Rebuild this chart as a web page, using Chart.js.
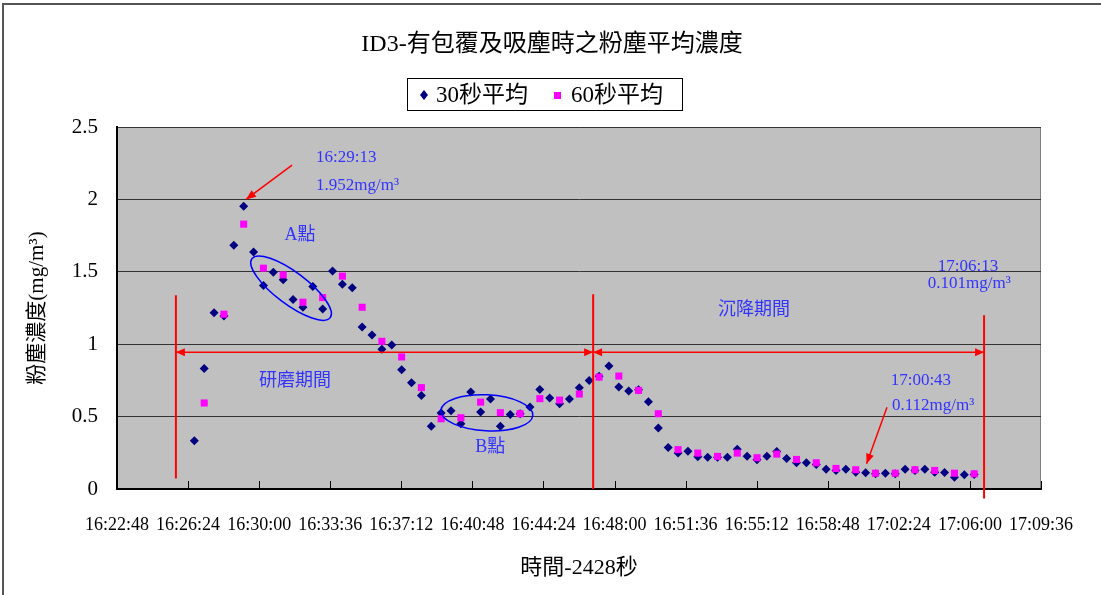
<!DOCTYPE html>
<html lang="zh-Hant">
<head>
<meta charset="UTF-8">
<title>ID3-有包覆及吸塵時之粉塵平均濃度</title>
<script src="https://cdn.jsdelivr.net/npm/chart.js"></script>
<style>
  body { margin: 0; background: #fff; }
  #wrap { width: 1101px; height: 595px; }
</style>
</head>
<body>
<div id="wrap"><canvas id="chart" width="1101" height="595"></canvas></div>
<script>
// x axis tick labels
const tickLabels = ['16:22:48','16:26:24','16:30:00','16:33:36','16:37:12','16:40:48','16:44:24',
  '16:48:00','16:51:36','16:55:12','16:58:48','17:02:24','17:06:00','17:09:36'];

// 30 second averages
const times30 = ['16:26:43','16:27:13','16:27:43','16:28:13','16:28:43','16:29:13','16:29:43','16:30:13',
  '16:30:43','16:31:13','16:31:43','16:32:13','16:32:43','16:33:13','16:33:43','16:34:13','16:34:43',
  '16:35:13','16:35:43','16:36:13','16:36:43','16:37:13','16:37:43','16:38:13','16:38:43','16:39:13',
  '16:39:43','16:40:13','16:40:43','16:41:13','16:41:43','16:42:13','16:42:43','16:43:13','16:43:43',
  '16:44:13','16:44:43','16:45:13','16:45:43','16:46:13','16:46:43','16:47:13','16:47:43','16:48:13',
  '16:48:43','16:49:13','16:49:43','16:50:13','16:50:43','16:51:13','16:51:43','16:52:13','16:52:43',
  '16:53:13','16:53:43','16:54:13','16:54:43','16:55:13','16:55:43','16:56:13','16:56:43','16:57:13',
  '16:57:43','16:58:13','16:58:43','16:59:13','16:59:43','17:00:13','17:00:43','17:01:13','17:01:43',
  '17:02:13','17:02:43','17:03:13','17:03:43','17:04:13','17:04:43','17:05:13','17:05:43','17:06:13'];
const values30 = [0.333,0.833,1.218,1.195,1.684,1.952,1.636,1.406,1.497,1.445,1.308,1.255,1.398,1.243,
  1.505,1.414,1.390,1.119,1.064,0.965,0.995,0.824,0.734,0.645,0.433,0.524,0.541,0.451,0.670,0.531,
  0.621,0.434,0.515,0.520,0.566,0.688,0.628,0.589,0.621,0.700,0.750,0.778,0.849,0.704,0.676,0.686,
  0.603,0.421,0.287,0.248,0.261,0.222,0.220,0.220,0.220,0.275,0.227,0.202,0.227,0.259,0.211,0.181,
  0.181,0.170,0.137,0.128,0.137,0.116,0.112,0.105,0.109,0.105,0.137,0.128,0.137,0.116,0.114,0.082,
  0.098,0.101];

// 60 second averages
const times60 = ['16:27:13','16:28:13','16:29:13','16:30:13','16:31:13','16:32:13','16:33:13','16:34:13',
  '16:35:13','16:36:13','16:37:13','16:38:13','16:39:13','16:40:13','16:41:13','16:42:13','16:43:13',
  '16:44:13','16:45:13','16:46:13','16:47:13','16:48:13','16:49:13','16:50:13','16:51:13','16:52:13',
  '16:53:13','16:54:13','16:55:13','16:56:13','16:57:13','16:58:13','16:59:13','17:00:13','17:01:13',
  '17:02:13','17:03:13','17:04:13','17:05:13','17:06:13'];
const values60 = [0.594,1.207,1.829,1.525,1.479,1.290,1.322,1.470,1.255,1.020,0.912,0.700,0.485,0.492,
  0.600,0.527,0.520,0.624,0.614,0.656,0.773,0.780,0.681,0.520,0.272,0.248,0.225,0.248,0.216,0.241,
  0.204,0.181,0.142,0.133,0.109,0.109,0.133,0.128,0.109,0.105];

const FONT = "'Liberation Serif', 'Noto Sans CJK TC', serif";
const BLUE = '#3333ff';
const RED = '#ff0000';

function toSec(t) {
  const p = t.split(':').map(Number);
  return p[0] * 3600 + p[1] * 60 + p[2];
}
const t0 = toSec(tickLabels[0]);
const tMax = toSec(tickLabels[tickLabels.length - 1]) - t0;
const pts = (times, vals) => times.map((t, i) => ({ x: toSec(t) - t0, y: vals[i] }));

function arrowHead(ctx, x0, y0, x1, y1, len, half) {
  const a = Math.atan2(y1 - y0, x1 - x0);
  ctx.beginPath();
  ctx.moveTo(x1, y1);
  ctx.lineTo(x1 - len * Math.cos(a) + half * Math.sin(a), y1 - len * Math.sin(a) - half * Math.cos(a));
  ctx.lineTo(x1 - len * Math.cos(a) - half * Math.sin(a), y1 - len * Math.sin(a) + half * Math.cos(a));
  ctx.closePath();
  ctx.fill();
}

const background = {
  id: 'background',
  beforeDraw(chart) {
    const { ctx, chartArea: a } = chart;
    ctx.save();
    ctx.fillStyle = '#fff';
    ctx.fillRect(0, 0, chart.width, chart.height);
    ctx.fillStyle = '#c0c0c0';
    ctx.fillRect(a.left, a.top, a.right - a.left, a.bottom - a.top);
    ctx.strokeStyle = '#808080';
    ctx.lineWidth = 1;
    ctx.strokeRect(a.left + 0.5, a.top + 0.5, a.right - a.left - 1, a.bottom - a.top);
    ctx.strokeStyle = '#555';
    ctx.lineWidth = 2;
    ctx.beginPath();
    ctx.moveTo(3, chart.height);
    ctx.lineTo(3, 4);
    ctx.lineTo(chart.width, 4);
    ctx.stroke();
    ctx.restore();
  },
  beforeDatasetsDraw(chart) {
    // inside tick marks on the time axis
    const { ctx, chartArea: a, scales: { x } } = chart;
    ctx.save();
    ctx.strokeStyle = '#000';
    ctx.lineWidth = 1;
    x.ticks.forEach(t => {
      const px = Math.round(x.getPixelForValue(t.value)) + 0.5;
      ctx.beginPath();
      ctx.moveTo(px, a.bottom);
      ctx.lineTo(px, a.bottom - 8);
      ctx.stroke();
    });
    ctx.restore();
  }
};

const headerAndNotes = {
  id: 'headerAndNotes',
  afterDraw(chart) {
    const { ctx, scales: { x, y } } = chart;
    const X = v => x.getPixelForValue(v);
    const Y = v => y.getPixelForValue(v);
    ctx.save();

    // title
    ctx.fillStyle = '#000';
    ctx.textAlign = 'center';
    ctx.textBaseline = 'middle';
    ctx.font = '24px ' + FONT;
    ctx.fillText('ID3-有包覆及吸塵時之粉塵平均濃度', 552, 45);

    // legend
    ctx.strokeStyle = '#000';
    ctx.lineWidth = 1;
    ctx.strokeRect(407.5, 78.5, 275, 32);
    ctx.fillStyle = '#000080';
    ctx.beginPath();
    ctx.moveTo(424, 90); ctx.lineTo(428, 95); ctx.lineTo(424, 100); ctx.lineTo(420, 95);
    ctx.closePath(); ctx.fill();
    ctx.fillStyle = '#ff00ff';
    ctx.fillRect(554, 92, 7, 7);
    ctx.fillStyle = '#000';
    ctx.textAlign = 'left';
    ctx.font = '23px ' + FONT;
    ctx.fillText('30秒平均', 436, 96);
    ctx.fillText('60秒平均', 571, 96);

    // red period markers
    ctx.strokeStyle = RED;
    ctx.fillStyle = RED;
    ctx.lineWidth = 2;
    [[179, 1.338, 0.073], [1447, 1.345, 0], [2635, 1.20, -0.066]].forEach(([s, y0, y1]) => {
      ctx.beginPath();
      ctx.moveTo(X(s), Y(y0));
      ctx.lineTo(X(s), Y(y1));
      ctx.stroke();
    });
    ctx.lineWidth = 1.5;
    [[179, 1447], [1447, 2635]].forEach(([s0, s1]) => {
      const yy = Y(0.944);
      ctx.beginPath();
      ctx.moveTo(X(s0), yy);
      ctx.lineTo(X(s1), yy);
      ctx.stroke();
      arrowHead(ctx, X(s1), yy, X(s0), yy, 9, 4);
      arrowHead(ctx, X(s0), yy, X(s1), yy, 9, 4);
    });
    [[532, 2.237, 392, 2.0], [2340, 0.564, 2278, 0.174]].forEach(([s0, v0, s1, v1]) => {
      ctx.beginPath();
      ctx.moveTo(X(s0), Y(v0));
      ctx.lineTo(X(s1), Y(v1));
      ctx.stroke();
      arrowHead(ctx, X(s0), Y(v0), X(s1), Y(v1), 10, 4);
    });

    // ellipses around point A and point B
    ctx.strokeStyle = '#0000ff';
    ctx.lineWidth = 1.5;
    ctx.beginPath();
    ctx.ellipse(X(529), Y(1.387), 49, 16, 37 * Math.PI / 180, 0, Math.PI * 2);
    ctx.stroke();
    ctx.beginPath();
    ctx.ellipse(X(1124), Y(0.526), 46, 18, 3 * Math.PI / 180, 0, Math.PI * 2);
    ctx.stroke();

    // blue notes
    ctx.fillStyle = BLUE;
    ctx.textAlign = 'left';
    ctx.font = '17px ' + FONT;
    ctx.fillText('16:29:13', X(605), Y(2.286));
    ctx.fillText('1.952mg/m³', X(605), Y(2.099));
    ctx.textAlign = 'center';
    ctx.fillText('17:06:13', X(2586), Y(1.537));
    ctx.fillText('0.101mg/m³', X(2590), Y(1.418));
    ctx.fillText('17:00:43', X(2443), Y(0.749));
    ctx.fillText('0.112mg/m³', X(2480), Y(0.577));
    ctx.font = '18px ' + FONT;
    ctx.fillText('A點', X(556), Y(1.753));
    ctx.fillText('B點', X(1134), Y(0.287));
    ctx.fillText('研磨期間', X(541), Y(0.743));
    ctx.fillText('沉降期間', X(1936), Y(1.234));
    ctx.restore();
  }
};

new Chart(document.getElementById('chart'), {
  type: 'scatter',
  data: {
    datasets: [
      {
        label: '30秒平均',
        data: pts(times30, values30),
        pointStyle: 'rectRot',
        pointRadius: 4.5,
        backgroundColor: '#000080',
        borderColor: '#000080',
        borderWidth: 0,
        order: 2
      },
      {
        label: '60秒平均',
        data: pts(times60, values60),
        pointStyle: 'rect',
        pointRadius: 5,
        backgroundColor: '#ff00ff',
        borderColor: '#ff00ff',
        borderWidth: 0,
        order: 1
      }
    ]
  },
  options: {
    responsive: false,
    animation: false,
    layout: { padding: { left: 0, top: 127, right: 60, bottom: 0 } },
    plugins: {
      legend: { display: false },
      title: { display: false },
      tooltip: { enabled: false }
    },
    scales: {
      x: {
        type: 'linear',
        min: 0,
        max: tMax,
        afterFit: s => { s.height = 106; },
        grid: { display: false, drawTicks: false },
        border: { display: true, color: '#000', width: 2 },
        ticks: {
          stepSize: 216,
          autoSkip: false,
          maxRotation: 0,
          padding: 25,
          color: '#000',
          font: { family: FONT, size: 18 },
          callback: (v, i) => tickLabels[i]
        },
        title: {
          display: true,
          text: '時間-2428秒',
          color: '#000',
          font: { family: FONT, size: 22 },
          padding: { top: 0, bottom: 14 }
        }
      },
      y: {
        min: 0,
        max: 2.5,
        afterFit: s => { s.width = 117; },
        grid: { color: '#333', lineWidth: 1, drawTicks: false },
        border: { display: true, color: '#000', width: 2 },
        ticks: {
          stepSize: 0.5,
          padding: 19,
          color: '#000',
          font: { family: FONT, size: 21 },
          callback: v => String(v)
        },
        title: {
          display: true,
          text: '粉塵濃度(mg/m³)',
          color: '#000',
          font: { family: FONT, size: 21 },
          padding: { top: 25, bottom: 0 }
        }
      }
    }
  },
  plugins: [background, headerAndNotes]
});
</script>
</body>
</html>
